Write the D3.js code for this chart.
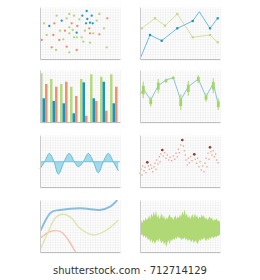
<!doctype html>
<html>
<head>
<meta charset="utf-8">
<script src="https://d3js.org/d3.v7.min.js"></script>
<style>
body { margin: 0; background: #fff; }
svg { display: block; }
</style>
</head>
<body>
<svg width="260" height="280"></svg>
<script>
// panel size and grid slots
var W = 80, H = 52;
var colX = [40, 140];
var rowY = [7, 70, 135, 200];

var green = "#b3d67a", blue = "#1c97c0", orange = "#f08a68";

// 1. scatter (x 0..80, y 0..52)
var scatterBlue = [[46.7,48],[42.3,43.3],[51.7,43.3],[47.3,40],[50,36.3],[52.7,35.7],[46,35.7],[21.7,38.3],[9.3,33],[36.7,26.3]];
var scatterOrange = [[67.3,40.7],[14.3,35.7],[31.7,35.7],[37.3,33],[49.3,30.7],[25,28.3],[13.3,24],[50,25.7],[59.3,24.7],[1.7,19],[19.3,19],[26.7,12.3],[11.7,11.7],[36.7,9]];
var scatterGreen = [[16.7,43.3],[29.3,45],[34,43.3],[59.3,45],[4,35.7],[26.7,40.7],[39.3,39.7],[56.7,38.3],[29.3,31.7],[20,28.3],[64,30.7],[32.7,29],[45,28.3],[53.3,25.7],[6.7,24],[29.3,25.7],[34,21.7],[36.7,21.7],[41.7,21.7],[23.3,19.7],[43.3,17.3],[50,16.3],[16,9],[29.3,6.7],[66.7,11.7]];

// 2. two lines, [x, y, marker]
var lineBlue = [[0,0,0],[10,24,1],[21.7,18.3,1],[37.3,30.7,1],[52.7,38,1],[59.3,47.3,0],[70,30.7,1],[77.7,40.7,1]];
var lineGreen = [[1.7,30.7,1],[15,40.7,1],[25,33.3,1],[37.3,45,1],[52.7,21.7,1],[70,24,1],[77.7,16.7,1]];

// 3. grouped bars
var barGroups = ["1","2","3","4","5","6","7","8"];
var barGreen  = [48.7, 43, 38, 35.3, 43, 47.7, 45.3, 47.7];
var barBlue   = [23.7, 21, 18.7, 8.7, 39.7, 23.7, 40.3, 18.7];
var barOrange = [38, 35.3, 40.3, 26, 6.3, 21, 11.3, 35.3];

// 4. line with range marks
var rangeX    = [0, 3.3, 10.7, 18.3, 26, 33.3, 40.7, 48.3, 58.3, 66, 73.3, 78.3];
var rangeMid  = [27, 33, 22, 36.3, 42, 44.3, 22, 35.3, 43, 25.3, 38.7, 17];
var rangeLow  = [null, 23.7, 15.3, 28.7, 38.7, 42, 12, 26.3, 38.7, 20.3, 28.7, 12];
var rangeHigh = [null, 40.3, 25.3, 43, 43.7, 46, 27.7, 41, 47, 28.7, 43.7, 23.7];

// 5. wave (y relative to baseline)
var waveX = [0, 4.7, 9.3, 14, 18.3, 24, 29.3, 34.3, 38.3, 43.3, 48.3, 53.3, 58.3, 63.3, 68.3, 73.3, 78.3];
var waveY = [-7, 0, 8.3, 0, -12.3, 0, 8.3, 0, -5, 0, 8.3, 0, -11, 0, 8.3, 0, -9];

// 6. dotted zigzag
var dots = [[0,13.7],[1,17.7],[2,12],[2.7,21],[4,16.3],[5,19.7],[6,14.3],[8.3,21],[9.3,17.7],[10.7,22],[11.7,18.7],[12.7,15.3],[14,20.3],[15,23.7],[16,17.7],[16.7,27],[18,23],[19.3,30.3],[20,25.3],[21,33],[23.3,31],[24.7,34.3],[26,28.7],[27.3,32],[28.7,27],[30,29.7],[31.7,26.3],[33.3,31],[34.7,27.7],[36,33.7],[37.3,30.3],[38.3,37.7],[39.3,34.3],[40.7,42],[43.3,41],[44.3,36.3],[45.3,32],[46,27],[47.3,22],[48.3,28.7],[49.3,24.3],[50.7,30.3],[52,26.3],[55.3,27.7],[56.7,23.7],[57.7,28.7],[59,20.3],[60,25.3],[61.3,17],[62.7,21],[64,15.3],[65,23.7],[66,28.7],[67,20.3],[68,33.7],[69,27.7],[71,35.3],[72,32],[73.3,36.3],[74.3,30.3],[75.7,33],[76.7,27],[78,24.3]];
var bigDots = [[7.3,24.7],[22.3,37],[42.3,47],[54.3,32.7],[70,39.7]];

// 7. smooth curves
var curveBlue = [[0,20.3],[10,38.7],[20,42],[40,43.7],[60,42],[70,45.3],[77.3,52]];
var curveGreen = [[0,2],[8.3,20.3],[15,33.7],[23.3,37.7],[31.7,33.7],[40,23.7],[53.3,17],[66.7,22],[78.3,32]];
var curvePink = [[0,13.7],[8.3,19.7],[15,21.3],[21.7,19.7],[28.3,12],[35,1],[38,-3]];

// 8. waveform envelope around a centre
var waveCentre = 23.7;
var waveTop = [6,8,5,9,7,11,8,10,13,9,15,11,17,12,18,10,14,9,12,15,10,13,8,11,9,12,14,10,12,8,11,13,9,12,10,14,11,17,13,19,12,15,10,13,9,12,14,10,15,11,13,9,12,10,14,11,13,9,11,8,10,12,9,11,7,9,8,10,7,8,6];
var waveBottom = [5,7,6,9,7,10,8,12,10,14,11,15,12,16,13,11,14,10,13,15,12,17,13,19,14,12,16,11,13,10,12,9,11,8,10,9,12,10,11,9,12,10,13,11,12,14,11,15,13,12,16,14,11,13,10,12,9,11,13,10,12,9,11,8,10,9,8,9,7,8,6];

var svg = d3.select("svg");

// build one framed panel with fine grid and axis lines
function panel(col, row) {
    var g = svg.append("g")
        .attr("transform", "translate(" + colX[col] + "," + rowY[row] + ")");
    var gx = d3.scaleLinear().domain([0, 32]).range([0, W]);
    var gy = d3.scaleLinear().domain([0, 21]).range([H, 0]);
    g.append("rect").attr("y", H).attr("width", W).attr("height", 1.5).attr("fill", "#f2f2f2");
    g.append("rect").attr("width", W).attr("height", H).attr("fill", "#fff");
    g.append("g").attr("transform", "translate(0," + H + ")")
        .call(d3.axisBottom(gx).tickValues(d3.range(1, 33)).tickSize(-H).tickFormat(""))
        .call(function(s){ s.select(".domain").remove(); s.selectAll("line").attr("stroke", "#e6e6e6").attr("stroke-width", 0.4); });
    g.append("g")
        .call(d3.axisLeft(gy).tickValues(d3.range(1, 21)).tickSize(-W).tickFormat(""))
        .call(function(s){ s.select(".domain").remove(); s.selectAll("line").attr("stroke", "#e6e6e6").attr("stroke-width", 0.4); });
    var plot = g.append("g");
    var x = d3.scaleLinear().domain([0, 80]).range([0, W]);
    var y = d3.scaleLinear().domain([0, 52]).range([H, 0]);
    // axes drawn on top afterwards
    g.axes = function() {
        g.append("g").attr("transform", "translate(0," + H + ")")
            .call(d3.axisBottom(x).ticks(0).tickSizeOuter(0))
            .call(function(s){ s.select(".domain").attr("stroke", "#bdbdbd").attr("stroke-width", 1); });
        g.append("g")
            .call(d3.axisLeft(y).ticks(0).tickSizeOuter(0))
            .call(function(s){ s.select(".domain").attr("stroke", "#cacaca").attr("stroke-width", 1); });
    };
    return { g: plot, x: x, y: y, frame: g };
}

// 1 scatter
var p1 = panel(0, 0);
[[scatterGreen, green], [scatterOrange, orange], [scatterBlue, blue]].forEach(function(s) {
    p1.g.selectAll(null).data(s[0]).enter().append("circle")
        .attr("cx", function(d){ return p1.x(d[0]); })
        .attr("cy", function(d){ return p1.y(d[1]); })
        .attr("r", 1.15).attr("fill", s[1]);
});
p1.frame.axes();

// 2 lines
var p2 = panel(1, 0);
var line2 = d3.line().x(function(d){ return p2.x(d[0]); }).y(function(d){ return p2.y(d[1]); });
[[lineGreen, "#d0e39c", "#bdd985"], [lineBlue, "#6cbde0", "#1b8fc0"]].forEach(function(s) {
    p2.g.append("path").datum(s[0]).attr("d", line2)
        .attr("fill", "none").attr("stroke", s[1]).attr("stroke-width", 1);
    p2.g.selectAll(null).data(s[0].filter(function(d){ return d[2]; })).enter().append("rect")
        .attr("x", function(d){ return p2.x(d[0]) - 1.1; })
        .attr("y", function(d){ return p2.y(d[1]) - 1.1; })
        .attr("width", 2.2).attr("height", 2.2).attr("fill", s[2]);
});
p2.frame.axes();

// 3 grouped bars
var p3 = panel(0, 1);
var band = d3.scaleBand().domain(barGroups).range([0, 77.5]).paddingInner(0.25).paddingOuter(0);
var sub = d3.scaleBand().domain([0, 1, 2]).range([0, band.bandwidth()]);
[[barGreen, "#b6da7e"], [barBlue, "#1b93bd"], [barOrange, "#f2906e"]].forEach(function(s, k) {
    p3.g.selectAll(null).data(s[0]).enter().append("rect")
        .attr("x", function(d, i){ return band(barGroups[i]) + sub(k); })
        .attr("y", function(d){ return p3.y(d); })
        .attr("width", sub.bandwidth())
        .attr("height", function(d){ return p3.y(0) - p3.y(d); })
        .attr("fill", s[1]);
});
p3.frame.axes();

// 4 line with range marks
var p4 = panel(1, 1);
var pts4 = rangeX.map(function(v, i){ return [v, rangeMid[i]]; });
p4.g.append("path").datum(pts4).attr("d", d3.line().x(function(d){ return p4.x(d[0]); }).y(function(d){ return p4.y(d[1]); }))
    .attr("fill", "none").attr("stroke", "#86c4e0").attr("stroke-width", 1);
var ranges = rangeX.map(function(v, i){ return { x: v, lo: rangeLow[i], hi: rangeHigh[i] }; })
    .filter(function(d){ return d.lo != null; });
p4.g.selectAll(null).data(ranges).enter().append("line")
    .attr("x1", function(d){ return p4.x(d.x); }).attr("x2", function(d){ return p4.x(d.x); })
    .attr("y1", function(d){ return p4.y(d.lo); }).attr("y2", function(d){ return p4.y(d.hi); })
    .attr("stroke", "#bfe08e").attr("stroke-width", 1.4);
p4.g.selectAll(null).data(ranges).enter().append("rect")
    .attr("x", function(d){ return p4.x(d.x) - 1.4; })
    .attr("y", function(d){ return p4.y(d.hi - (d.hi - d.lo) * 0.25); })
    .attr("width", 2.8)
    .attr("height", function(d){ return p4.y(d.lo + (d.hi - d.lo) * 0.25) - p4.y(d.hi - (d.hi - d.lo) * 0.25); })
    .attr("fill", "#a6d366");
p4.frame.axes();

// 5 wave area
var p5 = panel(0, 2);
var yw = d3.scaleLinear().domain([-25.3, 26.7]).range([H, 0]);
var pts5 = waveX.map(function(v, i){ return [v, waveY[i]]; });
p5.g.append("path").datum(pts5)
    .attr("d", d3.area().curve(d3.curveMonotoneX).x(function(d){ return p5.x(d[0]); }).y0(yw(0)).y1(function(d){ return yw(d[1]); }))
    .attr("fill", "#a3d9e8");
p5.g.append("path").datum(pts5)
    .attr("d", d3.line().curve(d3.curveMonotoneX).x(function(d){ return p5.x(d[0]); }).y(function(d){ return yw(d[1]); }))
    .attr("fill", "none").attr("stroke", "#62bed8").attr("stroke-width", 1);
p5.g.append("line").attr("x1", 0).attr("x2", W).attr("y1", yw(0)).attr("y2", yw(0))
    .attr("stroke", "#62bed8").attr("stroke-width", 0.8);
p5.frame.axes();

// 6 dots
var p6 = panel(1, 2);
p6.g.selectAll(null).data(dots).enter().append("circle")
    .attr("cx", function(d){ return p6.x(d[0]); }).attr("cy", function(d){ return p6.y(d[1]); })
    .attr("r", 0.75).attr("fill", "#e99a80");
p6.g.selectAll(null).data(bigDots).enter().append("circle")
    .attr("cx", function(d){ return p6.x(d[0]); }).attr("cy", function(d){ return p6.y(d[1]); })
    .attr("r", 1.35).attr("fill", "#8e3e33");
p6.frame.axes();

// 7 smooth curves
var p7 = panel(0, 3);
p7.frame.append("clipPath").attr("id", "clip7").append("rect").attr("width", W).attr("height", H);
var line7 = d3.line().curve(d3.curveCardinal).x(function(d){ return p7.x(d[0]); }).y(function(d){ return p7.y(d[1]); });
p7.g.attr("clip-path", "url(#clip7)");
[[curvePink, "#f3bcae", 1.3], [curveGreen, "#dde5ab", 1.4], [curveBlue, "#86bedc", 1.9]].forEach(function(s) {
    p7.g.append("path").datum(s[0]).attr("d", line7)
        .attr("fill", "none").attr("stroke", s[1]).attr("stroke-width", s[2]);
});
p7.frame.axes();

// 8 waveform
var p8 = panel(1, 3);
var xi = d3.scaleLinear().domain([0, waveTop.length - 1]).range([0, W]);
p8.g.append("path").datum(waveTop)
    .attr("d", d3.area().x(function(d, i){ return xi(i); })
        .y0(function(d, i){ return p8.y(waveCentre - waveBottom[i]); })
        .y1(function(d){ return p8.y(waveCentre + d); }))
    .attr("fill", "#b0d975");
p8.frame.axes();

// footer
svg.append("text").attr("x", 130).attr("y", 273.5).attr("text-anchor", "middle")
    .attr("font-family", "DejaVu Sans, sans-serif").attr("font-size", 10).attr("fill", "#333")
    .text("shutterstock.com \u00b7 712714129");
</script>
</body>
</html>
